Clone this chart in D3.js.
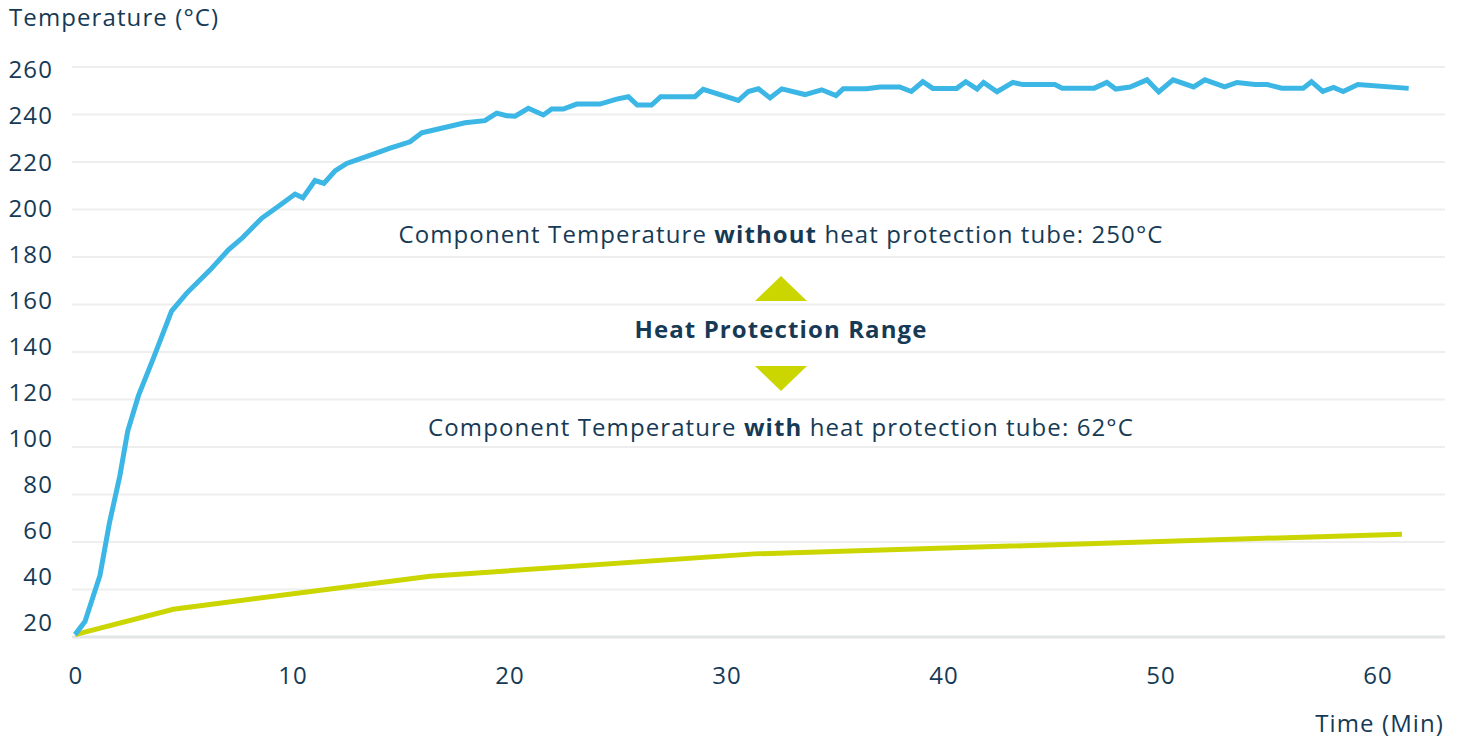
<!DOCTYPE html>
<html>
<head>
<meta charset="utf-8">
<script src="https://cdn.jsdelivr.net/npm/d3@7"></script>
<style>
  body { margin: 0; background: #fff; }
  text { font-family: "Open Sans", sans-serif; fill: #163a55; letter-spacing: 1.1px; }
</style>
</head>
<body>
<script>
// Time (min) and temperature (°C)
const timeWithout = [0, 0.46, 1.15, 1.58, 2.07, 2.43, 2.92, 3.61, 4.45, 5.15, 6.22, 7.07, 7.73, 8.6, 9.52, 10.14, 10.5, 11.06, 11.47, 11.98, 12.52, 13.75, 14.52, 15.44, 15.98, 16.59, 17.97, 18.89, 19.43, 19.89, 20.28, 20.89, 21.58, 21.97, 22.5, 23.12, 24.19, 24.96, 25.5, 25.91, 26.57, 26.99, 28.57, 28.95, 30.57, 31.03, 31.49, 32.03, 32.57, 33.64, 34.41, 35.07, 35.4, 36.48, 37.1, 38.0, 38.54, 39.07, 39.53, 40.63, 41.05, 41.57, 41.87, 42.49, 43.22, 43.68, 45.16, 45.49, 46.97, 47.55, 47.96, 48.62, 49.4, 49.94, 50.6, 51.55, 52.07, 52.98, 53.55, 54.38, 54.95, 55.61, 56.6, 56.98, 57.5, 58.0, 58.44, 59.12, 61.46];
const tempWithout = [21, 26.5, 45.9, 67.7, 88, 106.7, 121.5, 137.3, 157.2, 164.8, 174.5, 183, 188.2, 196.3, 202.3, 206.5, 204.9, 212.2, 211, 216.2, 219.4, 223.3, 225.8, 228.5, 232.3, 233.6, 236.5, 237.4, 240.6, 239.5, 239.3, 242.6, 239.8, 242.3, 242.3, 244.4, 244.4, 246.5, 247.5, 244, 244, 247.5, 247.5, 250.6, 245.9, 249.7, 250.8, 247, 250.8, 248.4, 250.4, 248, 250.8, 250.8, 251.6, 251.6, 249.7, 253.8, 251, 251, 253.8, 250.7, 253.5, 249.6, 253.5, 252.6, 252.6, 251.1, 251.1, 253.5, 250.7, 251.6, 254.6, 249.5, 254.6, 251.6, 254.6, 251.6, 253.5, 252.6, 252.6, 251.1, 251.1, 253.8, 249.7, 251.4, 249.7, 252.6, 251];

const timeWith = [0, 4.53, 13.3, 16.36, 31.3, 61.15];
const tempWith = [21, 31.7, 42, 45.6, 55, 63.3];

const xTicks = [0, 10, 20, 30, 40, 50, 60];
const yTicks = [20, 40, 60, 80, 100, 120, 140, 160, 180, 200, 220, 240, 260];

const width = 1461;
const height = 740;
const fs = 24;

const svg = d3.select("body").append("svg")
    .attr("width", width)
    .attr("height", height);

const x = d3.scaleLinear().domain([0, 60]).range([75, 1377]);
const y = d3.scaleLinear().domain([20, 260]).range([637, 67]);
// tick labels drift slightly from the grid in the original
const yLabel = d3.scaleLinear().domain([20, 260]).range([623, 70]);

// grid
svg.append("g")
    .selectAll("line")
    .data(yTicks)
    .join("line")
    .attr("x1", 72)
    .attr("x2", 1445)
    .attr("y1", d => y(d))
    .attr("y2", d => y(d))
    .attr("stroke", d => d === 20 ? "#e3e6e6" : "#eeeeee")
    .attr("stroke-width", d => d === 20 ? 3 : 2);

// y labels
svg.append("g")
    .selectAll("text")
    .data(yTicks)
    .join("text")
    .attr("x", 53)
    .attr("y", d => yLabel(d))
    .attr("dy", "0.35em")
    .attr("text-anchor", "end")
    .attr("font-size", fs)
    .text(d => d);

// x labels
svg.append("g")
    .selectAll("text")
    .data(xTicks)
    .join("text")
    .attr("x", d => x(d) + 1)
    .attr("y", 676)
    .attr("dy", "0.35em")
    .attr("text-anchor", "middle")
    .attr("font-size", fs)
    .text(d => d);

svg.append("text")
    .attr("x", 9)
    .attr("y", 18)
    .attr("dy", "0.35em")
    .attr("font-size", fs)
    .text("Temperature (°C)");

svg.append("text")
    .attr("x", 1444)
    .attr("y", 724)
    .attr("dy", "0.35em")
    .attr("text-anchor", "end")
    .attr("font-size", fs)
    .text("Time (Min)");

// lines
const line = d3.line()
    .x(d => x(d[0]))
    .y(d => y(d[1]));

svg.append("path")
    .datum(d3.zip(timeWith, tempWith))
    .attr("d", line)
    .attr("fill", "none")
    .attr("stroke", "#cbd500")
    .attr("stroke-width", 5);

svg.append("path")
    .datum(d3.zip(timeWithout, tempWithout))
    .attr("d", line)
    .attr("fill", "none")
    .attr("stroke", "#3bb6e5")
    .attr("stroke-width", 5);

// annotation
const cx = 781;
const note = (yy, before, bold, after) => {
    const t = svg.append("text")
        .attr("x", cx)
        .attr("y", yy)
        .attr("dy", "0.35em")
        .attr("text-anchor", "middle")
        .attr("font-size", fs);
    t.append("tspan").text(before);
    t.append("tspan").attr("font-weight", 700).text(bold);
    t.append("tspan").text(after);
};
note(235, "Component Temperature ", "without", " heat protection tube: 250°C");
note(428, "Component Temperature ", "with", " heat protection tube: 62°C");

svg.append("text")
    .attr("x", cx)
    .attr("y", 330)
    .attr("dy", "0.35em")
    .attr("text-anchor", "middle")
    .attr("font-size", fs)
    .attr("font-weight", 700)
    .text("Heat Protection Range");

svg.append("path")
    .attr("d", `M${cx},276L${cx + 26},301L${cx - 26},301Z`)
    .attr("fill", "#cbd500");
svg.append("path")
    .attr("d", `M${cx - 26},366L${cx + 26},366L${cx},391Z`)
    .attr("fill", "#cbd500");
</script>
</body>
</html>
